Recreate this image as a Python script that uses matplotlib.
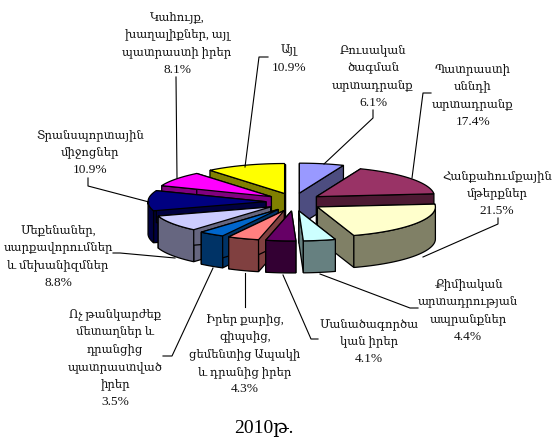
import numpy as np
import matplotlib
matplotlib.use('Agg')
import matplotlib.pyplot as plt

plt.rcParams['font.family'] = ['Liberation Serif', 'DejaVu Serif']

# clockwise from 12 o'clock
names = [['Բուսական', 'ծագման', 'արտադրանք'],
         ['Պատրաստի', 'սննդի', 'արտադրանք'],
         ['Հանքահումքային', 'մթերքներ'],
         ['Քիմիական', 'արտադրության', 'ապրանքներ'],
         ['Մանածագործա', 'կան իրեր'],
         ['Իրեր քարից,', 'գիպսից,', 'ցեմենտից Ապակի', 'և դրանից իրեր'],
         ['Ոչ թանկարժեք', 'մետաղներ և', 'դրանցից', 'պատրաստված', 'իրեր'],
         ['Մեքենաներ,', 'սարքավորումներ', 'և մեխանիզմներ'],
         ['Տրանսպորտային', 'միջոցներ'],
         ['Կահույք,', 'խաղալիքներ, այլ', 'պատրաստի իրեր'],
         ['Այլ']]
values = [6.1, 17.4, 21.5, 4.4, 4.1, 4.3, 3.5, 8.8, 10.9, 8.1, 10.9]
top_colors = ['#9999FF', '#993366', '#FFFFCC', '#CCFFFF', '#660066', '#FF8080',
              '#0066CC', '#CCCCFF', '#000080', '#FF00FF', '#FFFF00']
side_colors = ['#4D4D80', '#4D1A33', '#808066', '#668080', '#330033', '#804040',
               '#003366', '#666680', '#000040', '#800080', '#808000']

# pixel layout of the pie
cx, cy = 294, 202
rx, ry = 118, 30
explode_x, explode_y = 28, 9
depth = 32

# label centre x and first line y, in pixels
label_pos = [(373, 49), (473, 68), (497, 175), (468, 283), (369, 323),
             (245, 318), (115, 313), (58, 229), (90, 134), (177, 16), (289, 49)]
line_gap = 17.6
leaders = [[(373, 110), (373, 118), (324, 164)],
           [(431, 93), (423, 93), (412, 178)],
           [(498, 218), (498, 224), (423, 257)],
           [(418, 308), (410, 308), (320, 274)],
           [(318, 339), (311, 339), (283, 275)],
           [(245, 307), (245, 273)],
           [(163, 356), (172, 356), (213, 268)],
           [(113, 253), (120, 253), (175, 258)],
           [(88, 178), (88, 186), (149, 202)],
           [(176, 77), (177, 178)],
           [(268, 57), (259, 57), (245, 167)]]

fig = plt.figure(figsize=(5.52, 4.40), dpi=100)
ax = fig.add_axes([0, 0, 1, 1])
ax.set_xlim(0, 552)
ax.set_ylim(440, 0)
ax.axis('off')

edges = np.cumsum([0] + values) / sum(values) * 2 * np.pi
mids = (edges[:-1] + edges[1:]) / 2

# back slices first so the front ones cover them
order = np.argsort(-np.cos(mids))
z = 2
for i in order:
    px = cx + explode_x * np.sin(mids[i])
    py = cy - explode_y * np.cos(mids[i])
    t = np.linspace(edges[i], edges[i + 1], 60)
    xs = px + rx * np.sin(t)
    ys = py - ry * np.cos(t)
    # the two cut faces
    for j in [0, -1]:
        ax.fill([px, xs[j], xs[j], px], [py, ys[j], ys[j] + depth, py + depth],
                facecolor=side_colors[i], edgecolor='black', lw=0.9, zorder=z)
    # outer wall, only the part that faces the viewer
    front = np.cos(t) < 0.02
    if front.any():
        fx = xs[front]
        fy = ys[front]
        ax.fill(np.r_[fx, fx[::-1]], np.r_[fy, fy[::-1] + depth],
                facecolor=side_colors[i], edgecolor='black', lw=0.9, zorder=z)
    ax.fill(np.r_[px, xs], np.r_[py, ys], facecolor=top_colors[i],
            edgecolor='black', lw=0.9, zorder=z)
    z += 1

for line in leaders:
    ax.plot([p[0] for p in line], [p[1] for p in line], color='black', lw=0.8, zorder=20)

for name, value, pos in zip(names, values, label_pos):
    y = pos[1] + 4
    for part in name:
        ax.text(pos[0], y, part, ha='center', va='baseline', fontsize=8.4,
                color='#111111', zorder=21)
        y += line_gap
    ax.text(pos[0], y, '%.1f%%' % value, ha='center', va='baseline', fontsize=9.6,
            color='#111111', zorder=21)

ax.text(264, 432, '2010թ.', ha='center', va='baseline', fontsize=14, color='black')

fig.savefig('out.png', dpi=100)
